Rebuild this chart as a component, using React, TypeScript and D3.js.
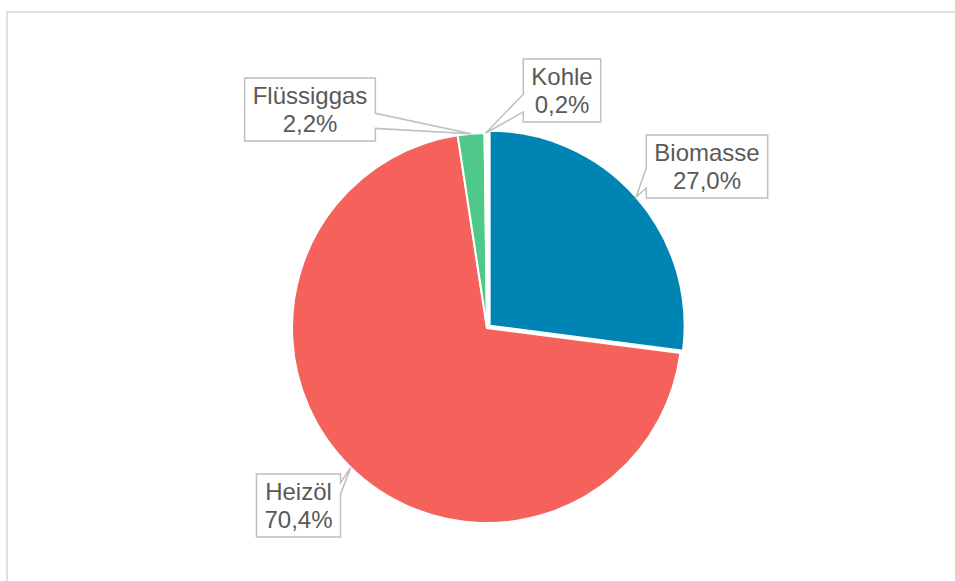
import React, { useRef, useEffect } from "react";
import * as d3 from "d3";

const categories = ["Biomasse", "Heizöl", "Flüssiggas", "Kohle"];
const shares = [27.0, 70.4, 2.2, 0.2];
const colors = ["#0084B4", "#F5625C", "#4EC98A", "#E8E8E8"];

// callout boxes: centre, which edge the pointer leaves from, and where on that edge (fraction of height)
const callouts = [
  { x: 707, y: 166.5, side: "left", b0: 0.52, b1: 0.84 },
  { x: 298.5, y: 505.5, side: "right", b0: 0.14, b1: 0.32 },
  { x: 310, y: 109.5, side: "right", b0: 0.56, b1: 0.8 },
  { x: 562, y: 90.5, side: "left", b0: 0.56, b1: 0.84 },
];

const de = d3.formatLocale({ decimal: ",", thousands: ".", grouping: [3], currency: ["", " €"] });
const pct = (v: number) => de.format(".1f")(v) + "%";

function App() {
  const svgRef = useRef<SVGSVGElement>(null);

  useEffect(() => {
    const W = 955, H = 581;
    const svg = d3.select(svgRef.current);
    svg.selectAll("*").remove();

    svg.append("rect").attr("width", W).attr("height", H).attr("fill", "#fff");
    // chart area frame (only left & top edges fall inside the window)
    svg.append("path")
      .attr("d", `M7,${H + 5}V12H${W + 5}`)
      .attr("fill", "none")
      .attr("stroke", "#D9D9D9")
      .attr("stroke-width", 1.6);

    const cx = 487, cy = 328, r = 195;
    const explode = [3.5, 0, 0, 0];

    const pie = d3.pie<number>().sort(null).value(d => d);
    const arcs = pie(shares);
    const arc = d3.arc<d3.PieArcDatum<number>>().innerRadius(0).outerRadius(r);
    const mid = (d: d3.PieArcDatum<number>) => (d.startAngle + d.endAngle) / 2;

    const g = svg.append("g").attr("transform", `translate(${cx},${cy})`);
    g.selectAll("path.slice")
      .data(arcs)
      .join("path")
      .attr("class", "slice")
      .attr("transform", (d, i) => {
        const a = mid(d);
        return `translate(${explode[i] * Math.sin(a)},${-explode[i] * Math.cos(a)})`;
      })
      .attr("d", arc)
      .attr("fill", (d, i) => colors[i])
      .attr("stroke", "#fff")
      .attr("stroke-width", 2);

    // data callouts
    arcs.forEach((d, i) => {
      const c = callouts[i];
      const a = mid(d);
      const rr = r + explode[i];
      const tx = cx + rr * Math.sin(a);
      const ty = cy - rr * Math.cos(a);

      const cg = svg.append("g");
      const box = cg.append("path");
      const lines = [categories[i], pct(shares[i])];
      let maxW = 0;
      lines.forEach((t, k) => {
        const txt = cg.append("text")
          .attr("x", c.x)
          .attr("y", c.y - 5.4 + k * 28)
          .attr("text-anchor", "middle")
          .attr("font-family", "'Liberation Sans', Arial, sans-serif")
          .attr("font-size", 24)
          .attr("fill", "#595959")
          .text(t);
        const node = txt.node() as SVGTextElement;
        maxW = Math.max(maxW, node.getComputedTextLength());
      });
      const w = maxW + 16, h = 63;
      const x0 = c.x - w / 2, x1 = c.x + w / 2, y0 = c.y - h / 2, y1 = c.y + h / 2;
      const p0 = y0 + c.b0 * h, p1 = y0 + c.b1 * h;
      const dPath = c.side === "left"
        ? `M${x0},${y0}H${x1}V${y1}H${x0}V${p1}L${tx},${ty}L${x0},${p0}Z`
        : `M${x0},${y0}H${x1}V${p0}L${tx},${ty}L${x1},${p1}V${y1}H${x0}Z`;
      box.attr("d", dPath)
        .attr("fill", "#fff")
        .attr("stroke", "#BFBFBF")
        .attr("stroke-width", 1.5);
    });
  }, []);

  return (
    <div className="App">
      <svg
        ref={svgRef}
        width={955}
        height={581}
        style={{ position: "absolute", left: 0, top: 0 }}
      ></svg>
    </div>
  );
}

export default App;
